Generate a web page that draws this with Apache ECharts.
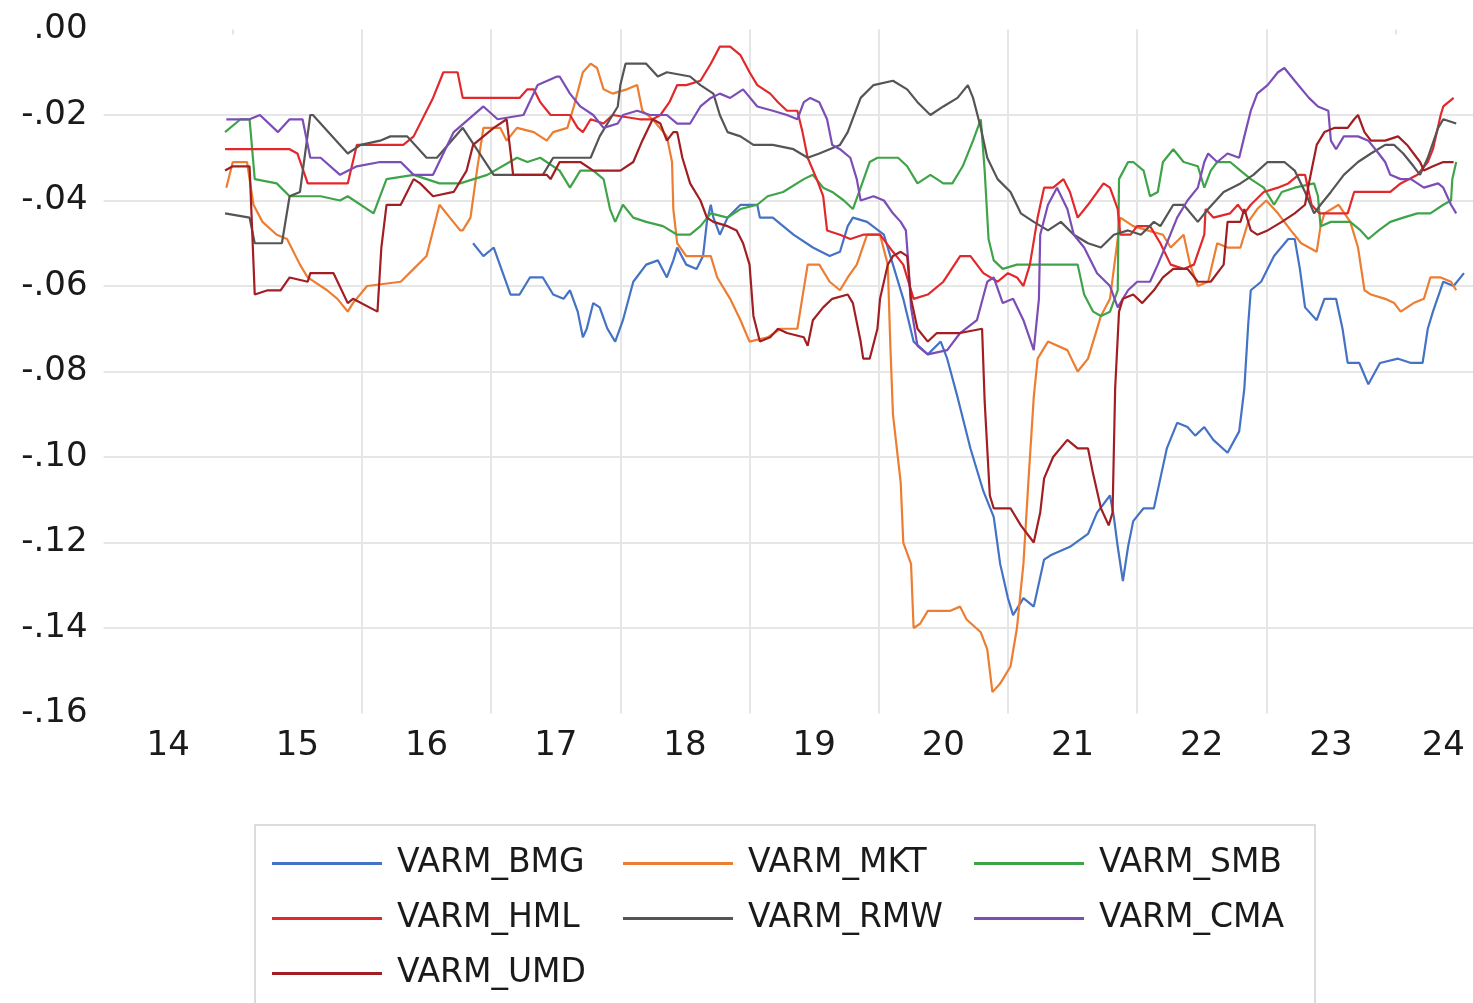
<!DOCTYPE html>
<html>
<head>
<meta charset="utf-8">
<script src="https://cdn.jsdelivr.net/npm/echarts@6/dist/echarts.min.js"></script>
<style>
html,body{margin:0;padding:0;background:#fff;}
#chart{width:1473px;height:1003px;}
</style>
</head>
<body>
<div id="chart"></div>
<script>
// ---- data (decimal year, value) ----
const seriesNames = ['VARM_BMG','VARM_MKT','VARM_SMB','VARM_HML','VARM_RMW','VARM_CMA','VARM_UMD'];
const seriesColors = ['#4472C4','#ED7D31','#3FA449','#E3282C','#555555','#7B4DB5','#A11F22'];
const yTickValues = [-0.16,-0.14,-0.12,-0.10,-0.08,-0.06,-0.04,-0.02,0];
const yearGrid = [2015,2016,2017,2018,2019,2020,2021,2022,2023,2024];
const yearLabelPos = [2014.5,2015.5,2016.5,2017.5,2018.5,2019.5,2020.5,2021.5,2022.5,2023.5,2024.37];

const BMG = [[2016.86,-0.050],[2016.94,-0.053],[2017.02,-0.051],[2017.15,-0.062],[2017.22,-0.062],[2017.30,-0.058],[2017.40,-0.058],[2017.48,-0.062],[2017.56,-0.063],[2017.61,-0.061],[2017.67,-0.066],[2017.71,-0.072],[2017.74,-0.070],[2017.79,-0.064],[2017.84,-0.065],[2017.90,-0.070],[2017.96,-0.073],[2018.02,-0.068],[2018.10,-0.059],[2018.20,-0.055],[2018.29,-0.054],[2018.36,-0.058],[2018.41,-0.054],[2018.44,-0.051],[2018.51,-0.055],[2018.59,-0.056],[2018.64,-0.053],[2018.67,-0.045],[2018.70,-0.041],[2018.72,-0.044],[2018.77,-0.048],[2018.83,-0.044],[2018.93,-0.041],[2019.06,-0.041],[2019.08,-0.044],[2019.18,-0.044],[2019.34,-0.048],[2019.49,-0.051],[2019.62,-0.053],[2019.70,-0.052],[2019.76,-0.046],[2019.80,-0.044],[2019.91,-0.045],[2020.04,-0.048],[2020.11,-0.055],[2020.19,-0.063],[2020.27,-0.073],[2020.38,-0.076],[2020.48,-0.073],[2020.53,-0.077],[2020.61,-0.086],[2020.71,-0.098],[2020.81,-0.108],[2020.89,-0.114],[2020.94,-0.125],[2021.00,-0.133],[2021.04,-0.137],[2021.12,-0.133],[2021.20,-0.135],[2021.28,-0.124],[2021.33,-0.123],[2021.48,-0.121],[2021.62,-0.118],[2021.69,-0.113],[2021.79,-0.109],[2021.82,-0.114],[2021.85,-0.121],[2021.89,-0.129],[2021.93,-0.121],[2021.97,-0.115],[2022.05,-0.112],[2022.13,-0.112],[2022.18,-0.105],[2022.23,-0.098],[2022.31,-0.092],[2022.39,-0.093],[2022.45,-0.095],[2022.52,-0.093],[2022.59,-0.096],[2022.70,-0.099],[2022.79,-0.094],[2022.83,-0.084],[2022.86,-0.069],[2022.88,-0.061],[2022.96,-0.059],[2023.06,-0.053],[2023.17,-0.049],[2023.22,-0.049],[2023.26,-0.056],[2023.30,-0.065],[2023.39,-0.068],[2023.45,-0.063],[2023.54,-0.063],[2023.59,-0.070],[2023.63,-0.078],[2023.72,-0.078],[2023.79,-0.083],[2023.88,-0.078],[2024.02,-0.077],[2024.12,-0.078],[2024.21,-0.078],[2024.25,-0.070],[2024.29,-0.066],[2024.37,-0.059],[2024.45,-0.060],[2024.53,-0.057]];

const MKT = [[2014.95,-0.037],[2015.00,-0.031],[2015.11,-0.031],[2015.16,-0.041],[2015.23,-0.045],[2015.34,-0.048],[2015.42,-0.049],[2015.52,-0.055],[2015.58,-0.058],[2015.73,-0.061],[2015.81,-0.063],[2015.89,-0.066],[2015.93,-0.064],[2016.04,-0.060],[2016.30,-0.059],[2016.40,-0.056],[2016.50,-0.053],[2016.55,-0.047],[2016.60,-0.041],[2016.68,-0.044],[2016.76,-0.047],[2016.78,-0.047],[2016.84,-0.044],[2016.89,-0.033],[2016.94,-0.023],[2017.07,-0.023],[2017.12,-0.026],[2017.20,-0.023],[2017.33,-0.024],[2017.43,-0.026],[2017.48,-0.024],[2017.59,-0.023],[2017.64,-0.018],[2017.71,-0.010],[2017.77,-0.008],[2017.82,-0.009],[2017.87,-0.014],[2017.94,-0.015],[2018.05,-0.014],[2018.13,-0.013],[2018.17,-0.019],[2018.25,-0.021],[2018.36,-0.025],[2018.40,-0.031],[2018.41,-0.042],[2018.44,-0.050],[2018.51,-0.053],[2018.70,-0.053],[2018.75,-0.058],[2018.85,-0.063],[2018.93,-0.068],[2019.00,-0.073],[2019.14,-0.072],[2019.24,-0.070],[2019.37,-0.070],[2019.45,-0.055],[2019.54,-0.055],[2019.62,-0.059],[2019.70,-0.061],[2019.76,-0.058],[2019.83,-0.055],[2019.91,-0.048],[2020.01,-0.048],[2020.07,-0.055],[2020.09,-0.074],[2020.11,-0.090],[2020.17,-0.106],[2020.19,-0.120],[2020.25,-0.125],[2020.27,-0.140],[2020.32,-0.139],[2020.38,-0.136],[2020.55,-0.136],[2020.63,-0.135],[2020.68,-0.138],[2020.79,-0.141],[2020.84,-0.145],[2020.88,-0.155],[2020.94,-0.153],[2021.02,-0.149],[2021.07,-0.140],[2021.12,-0.125],[2021.16,-0.105],[2021.20,-0.086],[2021.23,-0.077],[2021.31,-0.073],[2021.46,-0.075],[2021.54,-0.080],[2021.62,-0.077],[2021.66,-0.073],[2021.72,-0.067],[2021.79,-0.063],[2021.85,-0.049],[2021.87,-0.044],[2021.97,-0.046],[2022.08,-0.047],[2022.20,-0.048],[2022.26,-0.051],[2022.36,-0.048],[2022.41,-0.055],[2022.47,-0.060],[2022.55,-0.059],[2022.62,-0.050],[2022.70,-0.051],[2022.80,-0.051],[2022.86,-0.045],[2022.93,-0.042],[2023.00,-0.040],[2023.09,-0.043],[2023.19,-0.047],[2023.27,-0.050],[2023.39,-0.052],[2023.42,-0.046],[2023.45,-0.043],[2023.56,-0.041],[2023.65,-0.045],[2023.71,-0.051],[2023.76,-0.061],[2023.81,-0.062],[2023.92,-0.063],[2023.99,-0.064],[2024.04,-0.066],[2024.14,-0.064],[2024.22,-0.063],[2024.27,-0.058],[2024.35,-0.058],[2024.43,-0.059],[2024.47,-0.061]];

const SMB = [[2014.94,-0.024],[2015.06,-0.021],[2015.13,-0.021],[2015.17,-0.035],[2015.34,-0.036],[2015.44,-0.039],[2015.52,-0.039],[2015.68,-0.039],[2015.83,-0.040],[2015.89,-0.039],[2016.09,-0.043],[2016.19,-0.035],[2016.40,-0.034],[2016.60,-0.036],[2016.76,-0.036],[2016.97,-0.034],[2017.20,-0.030],[2017.28,-0.031],[2017.38,-0.030],[2017.53,-0.033],[2017.61,-0.037],[2017.69,-0.033],[2017.79,-0.033],[2017.87,-0.035],[2017.92,-0.042],[2017.96,-0.045],[2018.02,-0.041],[2018.10,-0.044],[2018.20,-0.045],[2018.33,-0.046],[2018.44,-0.048],[2018.54,-0.048],[2018.62,-0.046],[2018.70,-0.043],[2018.83,-0.044],[2018.93,-0.042],[2019.06,-0.041],[2019.14,-0.039],[2019.26,-0.038],[2019.42,-0.035],[2019.49,-0.034],[2019.57,-0.037],[2019.64,-0.038],[2019.73,-0.040],[2019.80,-0.042],[2019.86,-0.037],[2019.93,-0.031],[2019.99,-0.030],[2020.15,-0.030],[2020.22,-0.032],[2020.30,-0.036],[2020.40,-0.034],[2020.50,-0.036],[2020.57,-0.036],[2020.65,-0.032],[2020.73,-0.026],[2020.79,-0.021],[2020.82,-0.033],[2020.85,-0.049],[2020.89,-0.054],[2020.96,-0.056],[2021.07,-0.055],[2021.31,-0.055],[2021.54,-0.055],[2021.59,-0.062],[2021.66,-0.066],[2021.72,-0.067],[2021.79,-0.066],[2021.85,-0.061],[2021.86,-0.035],[2021.93,-0.031],[2021.97,-0.031],[2022.05,-0.033],[2022.10,-0.039],[2022.16,-0.038],[2022.20,-0.031],[2022.28,-0.028],[2022.36,-0.031],[2022.47,-0.032],[2022.52,-0.037],[2022.57,-0.033],[2022.62,-0.031],[2022.72,-0.031],[2022.80,-0.033],[2022.88,-0.035],[2022.98,-0.037],[2023.06,-0.041],[2023.12,-0.038],[2023.22,-0.037],[2023.37,-0.036],[2023.40,-0.039],[2023.42,-0.046],[2023.50,-0.045],[2023.65,-0.045],[2023.73,-0.047],[2023.79,-0.049],[2023.87,-0.047],[2023.96,-0.045],[2024.06,-0.044],[2024.17,-0.043],[2024.27,-0.043],[2024.37,-0.041],[2024.43,-0.040],[2024.44,-0.035],[2024.47,-0.031]];

const HML = [[2014.94,-0.028],[2015.44,-0.028],[2015.50,-0.029],[2015.58,-0.036],[2015.89,-0.036],[2015.96,-0.027],[2016.32,-0.027],[2016.40,-0.025],[2016.55,-0.016],[2016.63,-0.010],[2016.74,-0.010],[2016.78,-0.016],[2017.22,-0.016],[2017.28,-0.014],[2017.33,-0.014],[2017.38,-0.017],[2017.46,-0.020],[2017.61,-0.020],[2017.67,-0.023],[2017.71,-0.024],[2017.77,-0.021],[2017.87,-0.022],[2017.94,-0.020],[2018.15,-0.021],[2018.25,-0.021],[2018.31,-0.020],[2018.38,-0.017],[2018.44,-0.013],[2018.51,-0.013],[2018.62,-0.012],[2018.70,-0.008],[2018.77,-0.004],[2018.85,-0.004],[2018.93,-0.006],[2019.00,-0.010],[2019.06,-0.013],[2019.16,-0.015],[2019.22,-0.017],[2019.29,-0.019],[2019.37,-0.019],[2019.41,-0.024],[2019.45,-0.030],[2019.52,-0.035],[2019.57,-0.039],[2019.60,-0.047],[2019.70,-0.048],[2019.78,-0.049],[2019.88,-0.048],[2020.01,-0.048],[2020.11,-0.052],[2020.19,-0.055],[2020.27,-0.063],[2020.38,-0.062],[2020.50,-0.059],[2020.63,-0.053],[2020.71,-0.053],[2020.81,-0.057],[2020.92,-0.059],[2021.00,-0.057],[2021.07,-0.058],[2021.12,-0.060],[2021.17,-0.055],[2021.23,-0.044],[2021.28,-0.037],[2021.35,-0.037],[2021.43,-0.035],[2021.48,-0.038],[2021.54,-0.044],[2021.62,-0.041],[2021.74,-0.036],[2021.79,-0.037],[2021.85,-0.042],[2021.87,-0.048],[2021.95,-0.048],[2022.00,-0.046],[2022.10,-0.046],[2022.18,-0.050],[2022.26,-0.055],[2022.36,-0.056],[2022.44,-0.055],[2022.52,-0.048],[2022.53,-0.042],[2022.59,-0.044],[2022.72,-0.043],[2022.78,-0.041],[2022.83,-0.043],[2022.88,-0.041],[2022.98,-0.038],[2023.09,-0.037],[2023.17,-0.036],[2023.25,-0.034],[2023.30,-0.034],[2023.35,-0.041],[2023.41,-0.043],[2023.53,-0.043],[2023.63,-0.043],[2023.68,-0.038],[2023.92,-0.038],[2023.96,-0.038],[2024.04,-0.036],[2024.17,-0.034],[2024.25,-0.031],[2024.29,-0.028],[2024.35,-0.020],[2024.37,-0.018],[2024.45,-0.016]];

const RMW = [[2014.94,-0.043],[2015.13,-0.044],[2015.17,-0.050],[2015.38,-0.050],[2015.44,-0.039],[2015.52,-0.038],[2015.60,-0.020],[2015.62,-0.020],[2015.89,-0.029],[2015.99,-0.027],[2016.14,-0.026],[2016.22,-0.025],[2016.35,-0.025],[2016.50,-0.030],[2016.58,-0.030],[2016.78,-0.023],[2017.02,-0.034],[2017.40,-0.034],[2017.48,-0.030],[2017.77,-0.030],[2017.84,-0.025],[2017.92,-0.021],[2017.98,-0.018],[2018.00,-0.013],[2018.04,-0.008],[2018.20,-0.008],[2018.29,-0.011],[2018.36,-0.010],[2018.54,-0.011],[2018.62,-0.013],[2018.72,-0.015],[2018.77,-0.020],[2018.83,-0.024],[2018.93,-0.025],[2019.03,-0.027],[2019.18,-0.027],[2019.34,-0.028],[2019.45,-0.030],[2019.54,-0.029],[2019.70,-0.027],[2019.76,-0.024],[2019.86,-0.016],[2019.96,-0.013],[2020.11,-0.012],[2020.22,-0.014],[2020.30,-0.017],[2020.40,-0.020],[2020.50,-0.018],[2020.61,-0.016],[2020.69,-0.013],[2020.73,-0.016],[2020.79,-0.023],[2020.84,-0.030],[2020.92,-0.035],[2021.02,-0.038],[2021.10,-0.043],[2021.20,-0.045],[2021.31,-0.047],[2021.41,-0.045],[2021.51,-0.048],[2021.62,-0.050],[2021.72,-0.051],[2021.82,-0.048],[2021.93,-0.047],[2022.03,-0.048],[2022.13,-0.045],[2022.18,-0.046],[2022.28,-0.041],[2022.36,-0.041],[2022.47,-0.045],[2022.55,-0.042],[2022.67,-0.038],[2022.80,-0.036],[2022.90,-0.034],[2023.01,-0.031],[2023.14,-0.031],[2023.22,-0.033],[2023.30,-0.038],[2023.37,-0.043],[2023.42,-0.041],[2023.50,-0.038],[2023.60,-0.034],[2023.71,-0.031],[2023.81,-0.029],[2023.92,-0.027],[2023.99,-0.027],[2024.06,-0.029],[2024.14,-0.032],[2024.19,-0.034],[2024.25,-0.030],[2024.33,-0.023],[2024.37,-0.021],[2024.47,-0.022]];

const CMA = [[2014.95,-0.021],[2015.13,-0.021],[2015.21,-0.020],[2015.35,-0.024],[2015.44,-0.021],[2015.54,-0.021],[2015.60,-0.030],[2015.68,-0.030],[2015.83,-0.034],[2015.96,-0.032],[2016.14,-0.031],[2016.30,-0.031],[2016.40,-0.034],[2016.55,-0.034],[2016.71,-0.024],[2016.94,-0.018],[2017.05,-0.021],[2017.25,-0.020],[2017.36,-0.013],[2017.51,-0.011],[2017.53,-0.011],[2017.61,-0.015],[2017.69,-0.018],[2017.79,-0.020],[2017.87,-0.023],[2017.98,-0.022],[2018.02,-0.020],[2018.13,-0.019],[2018.23,-0.020],[2018.36,-0.020],[2018.44,-0.022],[2018.54,-0.022],[2018.62,-0.018],[2018.70,-0.016],[2018.77,-0.015],[2018.85,-0.016],[2018.95,-0.014],[2019.06,-0.018],[2019.18,-0.019],[2019.29,-0.020],[2019.37,-0.021],[2019.42,-0.017],[2019.47,-0.016],[2019.54,-0.017],[2019.60,-0.021],[2019.64,-0.027],[2019.70,-0.028],[2019.78,-0.030],[2019.83,-0.035],[2019.86,-0.040],[2019.96,-0.039],[2020.04,-0.040],[2020.11,-0.043],[2020.17,-0.045],[2020.21,-0.047],[2020.23,-0.055],[2020.25,-0.065],[2020.30,-0.074],[2020.38,-0.076],[2020.53,-0.075],[2020.63,-0.071],[2020.76,-0.068],[2020.84,-0.059],[2020.89,-0.058],[2020.96,-0.064],[2021.04,-0.063],[2021.12,-0.068],[2021.20,-0.075],[2021.24,-0.063],[2021.25,-0.048],[2021.31,-0.041],[2021.38,-0.037],[2021.46,-0.042],[2021.51,-0.048],[2021.59,-0.051],[2021.69,-0.057],[2021.79,-0.060],[2021.85,-0.065],[2021.93,-0.061],[2022.00,-0.059],[2022.10,-0.059],[2022.16,-0.055],[2022.23,-0.050],[2022.31,-0.044],[2022.39,-0.040],[2022.47,-0.037],[2022.52,-0.031],[2022.55,-0.029],[2022.62,-0.031],[2022.70,-0.029],[2022.79,-0.030],[2022.83,-0.025],[2022.88,-0.019],[2022.93,-0.015],[2023.01,-0.013],[2023.09,-0.010],[2023.14,-0.009],[2023.22,-0.012],[2023.33,-0.016],[2023.40,-0.018],[2023.48,-0.019],[2023.50,-0.026],[2023.54,-0.028],[2023.60,-0.025],[2023.71,-0.025],[2023.79,-0.026],[2023.87,-0.029],[2023.92,-0.031],[2023.96,-0.034],[2024.04,-0.035],[2024.12,-0.035],[2024.22,-0.037],[2024.33,-0.036],[2024.37,-0.037],[2024.43,-0.041],[2024.47,-0.043]];

const UMD = [[2014.94,-0.033],[2015.00,-0.032],[2015.13,-0.032],[2015.17,-0.062],[2015.27,-0.061],[2015.37,-0.061],[2015.44,-0.058],[2015.58,-0.059],[2015.60,-0.057],[2015.78,-0.057],[2015.89,-0.064],[2015.93,-0.063],[2016.12,-0.066],[2016.15,-0.051],[2016.19,-0.041],[2016.30,-0.041],[2016.40,-0.035],[2016.45,-0.036],[2016.55,-0.039],[2016.71,-0.038],[2016.81,-0.033],[2016.86,-0.027],[2017.02,-0.023],[2017.12,-0.021],[2017.17,-0.034],[2017.43,-0.034],[2017.46,-0.035],[2017.53,-0.031],[2017.69,-0.031],[2017.79,-0.033],[2018.00,-0.033],[2018.10,-0.031],[2018.17,-0.026],[2018.25,-0.021],[2018.31,-0.022],[2018.36,-0.026],[2018.41,-0.024],[2018.44,-0.024],[2018.48,-0.030],[2018.54,-0.036],[2018.62,-0.040],[2018.67,-0.044],[2018.72,-0.045],[2018.83,-0.046],[2018.90,-0.047],[2018.95,-0.050],[2019.00,-0.055],[2019.03,-0.067],[2019.08,-0.073],[2019.16,-0.072],[2019.22,-0.070],[2019.29,-0.071],[2019.42,-0.072],[2019.45,-0.074],[2019.49,-0.068],[2019.57,-0.065],[2019.64,-0.063],[2019.76,-0.062],[2019.80,-0.064],[2019.86,-0.073],[2019.88,-0.077],[2019.93,-0.077],[2019.99,-0.070],[2020.01,-0.063],[2020.07,-0.055],[2020.11,-0.053],[2020.17,-0.052],[2020.22,-0.053],[2020.25,-0.063],[2020.30,-0.070],[2020.38,-0.073],[2020.45,-0.071],[2020.63,-0.071],[2020.80,-0.070],[2020.82,-0.087],[2020.86,-0.109],[2020.89,-0.112],[2021.02,-0.112],[2021.10,-0.116],[2021.20,-0.120],[2021.25,-0.113],[2021.28,-0.105],[2021.35,-0.100],[2021.46,-0.096],[2021.54,-0.098],[2021.62,-0.098],[2021.66,-0.104],[2021.72,-0.112],[2021.78,-0.116],[2021.81,-0.113],[2021.83,-0.084],[2021.86,-0.066],[2021.89,-0.063],[2021.97,-0.062],[2022.04,-0.064],[2022.13,-0.061],[2022.20,-0.058],[2022.28,-0.056],[2022.39,-0.056],[2022.47,-0.059],[2022.57,-0.059],[2022.67,-0.055],[2022.70,-0.045],[2022.80,-0.045],[2022.83,-0.042],[2022.88,-0.047],[2022.93,-0.048],[2023.01,-0.047],[2023.12,-0.045],[2023.22,-0.043],[2023.30,-0.041],[2023.33,-0.036],[2023.35,-0.033],[2023.39,-0.027],[2023.45,-0.024],[2023.53,-0.023],[2023.63,-0.023],[2023.68,-0.021],[2023.71,-0.020],[2023.76,-0.024],[2023.81,-0.026],[2023.92,-0.026],[2024.02,-0.025],[2024.09,-0.027],[2024.14,-0.029],[2024.19,-0.031],[2024.22,-0.033],[2024.29,-0.032],[2024.37,-0.031],[2024.45,-0.031]];

const seriesData = [BMG, MKT, SMB, HML, RMW, CMA, UMD];

// ---- chart ----
const FONT = 'DejaVu Sans';
const gridColor = '#e6e6e6';
const chart = echarts.init(document.getElementById('chart'), null, {renderer:'canvas'});

function fmtY(v){
  let s = (Math.round(v*100)/100).toFixed(2);
  if (s === '-0.00') s = '0.00';
  return s.replace('0.', '.');
}

const option = {
  animation: false,
  backgroundColor: '#ffffff',
  grid: {left: 103.6, right: 0, top: 29.5, bottom: 289.5, containLabel: false, outerBoundsMode: 'none'},
  xAxis: {
    type: 'value', min: 2014, max: 2024.6, interval: 1,
    axisLine: {show: false},
    axisTick: {show: true, length: 5, customValues: yearGrid, lineStyle: {color: gridColor, width: 2}},
    splitLine: {show: true, showMinLine: false, showMaxLine: false, lineStyle: {color: gridColor, width: 2}},
    axisLabel: {
      customValues: yearLabelPos,
      formatter: v => String(Math.floor(v) % 100),
      fontFamily: FONT, fontSize: 34, color: '#1a1a1a', margin: 16
    }
  },
  yAxis: {
    type: 'value', min: -0.16, max: 0, interval: 0.02,
    axisLine: {show: false}, axisTick: {show: false},
    splitLine: {show: true, showMinLine: false, showMaxLine: false, lineStyle: {color: gridColor, width: 2}},
    axisLabel: {formatter: fmtY, fontFamily: FONT, fontSize: 34, color: '#1a1a1a', margin: 16, verticalAlign: 'middle', padding: [0, 0, 10, 0]}
  },
  legend: {
    show: true, type: 'plain', orient: 'horizontal',
    left: 255, top: 825, width: 1040,
    padding: [22, 12, 22, 17],
    itemGap: 22, itemWidth: 110, itemHeight: 3,
    icon: 'rect',
    borderColor: '#dcdcdc', borderWidth: 2,
    data: seriesNames,
    textStyle: {fontFamily: FONT, fontSize: 33, color: '#1a1a1a', width: 204, overflow: 'truncate', lineHeight: 33, padding: [0,0,0,10]}
  },
  series: seriesNames.map((name, i) => ({
    name: name, type: 'line', data: seriesData[i],
    showSymbol: false, symbol: 'none',
    lineStyle: {width: 2.2, color: seriesColors[i]},
    itemStyle: {color: seriesColors[i]},
    emphasis: {disabled: true}
  }))
};
chart.setOption(option);
</script>
</body>
</html>
